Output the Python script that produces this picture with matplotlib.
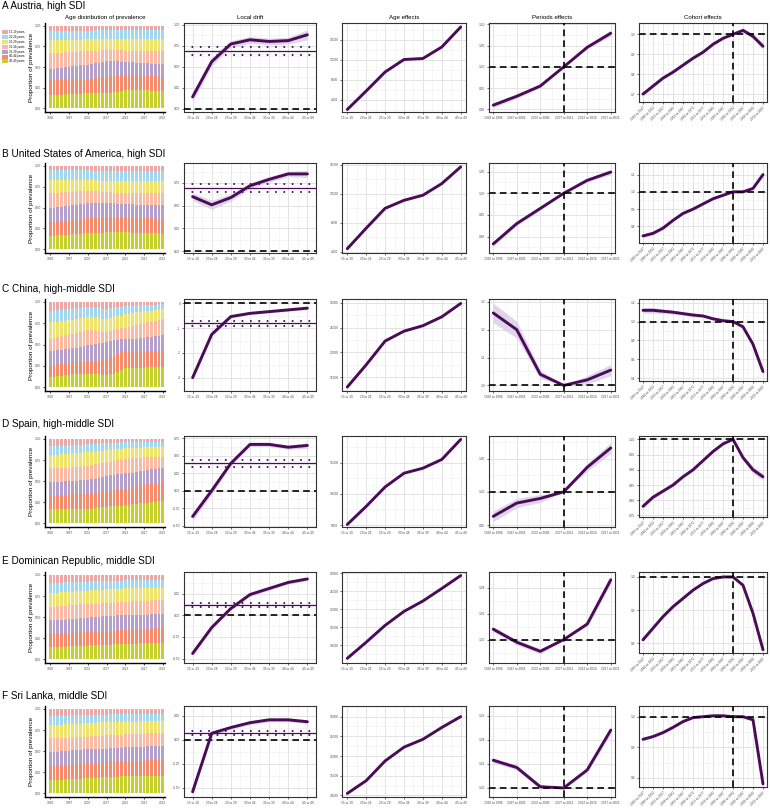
import numpy as np
import matplotlib.pyplot as plt
from matplotlib.patches import Patch

plt.rcParams['font.family'] = ['Liberation Sans', 'DejaVu Sans']

# ---------------- categories ----------------
years = list(range(1992, 2023))
age_groups = ['15 to 19', '20 to 24', '25 to 29', '30 to 34', '35 to 39', '40 to 44', '45 to 49']
periods = ['1992 to 1996', '1997 to 2001', '2002 to 2006', '2007 to 2011', '2012 to 2016', '2017 to 2021']
cohorts = ['1943 to 1947', '1948 to 1952', '1953 to 1957', '1958 to 1962', '1963 to 1967',
           '1968 to 1972', '1973 to 1977', '1978 to 1982', '1983 to 1987', '1988 to 1992',
           '1993 to 1997', '1998 to 2002', '2003 to 2007']
legend_labels = ['15-19 years', '20-24 years', '25-29 years', '30-34 years',
                 '35-39 years', '40-44 years', '45-49 years']
# colours bottom (45-49) -> top (15-19)
stack_colors = ['#C5D02F', '#F48B6C', '#B5A0CB', '#F9B9A2', '#EEE46B', '#A3D7EE', '#EDA7A7']

# ---------------- A Austria ----------------
# cumulative tops: 45-49, 40-44, 35-39, 30-34, 25-29, 20-24 (15-19 fills up to 1)
aut_cum = [
    [.16, .16, .16, .16, .17, .17, .17, .17, .17, .18, .18, .18, .18, .18, .19, .19, .19, .20, .20, .21,
     .22, .22, .22, .22, .22, .22, .22, .21, .21, .21, .21],
    [.34, .34, .34, .35, .35, .35, .35, .35, .36, .36, .36, .36, .37, .37, .38, .38, .39, .39, .40, .40,
     .41, .41, .41, .41, .40, .40, .40, .39, .39, .38, .38],
    [.48, .48, .49, .49, .50, .50, .51, .51, .52, .53, .53, .54, .55, .55, .56, .57, .57, .57, .57, .56,
     .56, .56, .56, .55, .55, .55, .55, .54, .54, .54, .54],
    [.67, .67, .67, .67, .68, .68, .68, .68, .69, .69, .69, .70, .70, .70, .71, .71, .71, .71, .71, .71,
     .70, .70, .70, .70, .70, .70, .69, .69, .69, .69, .69],
    [.83, .83, .83, .83, .83, .83, .83, .83, .83, .84, .84, .84, .84, .84, .84, .84, .84, .84, .84, .84,
     .84, .84, .84, .84, .84, .84, .84, .84, .84, .84, .84],
    [.94, .94, .94, .94, .94, .94, .94, .94, .94, .94, .94, .94, .95, .95, .95, .95, .95, .95, .95, .95,
     .95, .95, .95, .95, .95, .95, .95, .95, .95, .95, .95],
]
aut_drift = [0.14, 0.56, 0.77, 0.82, 0.80, 0.81, 0.88]
aut_drift_ci = [0.06, 0.05, 0.04, 0.04, 0.04, 0.04, 0.06]
aut_net = [0.69, 0.64, 0.74]
aut_age = [2000, 5700, 9500, 12000, 12200, 14500, 18500]
aut_period = [0.910, 0.931, 0.955, 1.000, 1.046, 1.079]
aut_period_ci = [0.006, 0.005, 0.004, 0.0, 0.004, 0.007]
aut_cohort = [0.70, 0.74, 0.78, 0.81, 0.845, 0.88, 0.91, 0.95, 0.98, 1.00, 1.02, 0.99, 0.94]
aut_cohort_ci = [0.010, 0.008, 0.007, 0.006, 0.006, 0.006, 0.006, 0.006, 0.006, 0.0, 0.010, 0.012, 0.015]

# ---------------- B USA ----------------
usa_cum = [
    [.16, .16, .17, .17, .17, .17, .18, .18, .18, .19, .19, .19, .20, .20, .20, .21, .21, .21, .21, .21,
     .21, .21, .20, .20, .20, .20, .19, .19, .19, .18, .18],
    [.33, .33, .34, .34, .34, .35, .35, .36, .36, .37, .37, .37, .38, .38, .38, .39, .39, .39, .39, .39,
     .39, .39, .38, .38, .38, .37, .37, .37, .36, .36, .36],
    [.50, .50, .51, .51, .52, .52, .53, .53, .54, .54, .55, .55, .55, .55, .55, .55, .55, .55, .54, .54,
     .54, .54, .54, .53, .53, .53, .53, .53, .53, .53, .53],
    [.68, .68, .68, .69, .69, .69, .69, .70, .70, .70, .70, .70, .70, .70, .69, .69, .69, .68, .68, .68,
     .67, .67, .67, .67, .67, .67, .67, .67, .67, .67, .67],
    [.83, .83, .83, .83, .83, .83, .83, .83, .83, .83, .83, .83, .83, .82, .82, .82, .82, .82, .82, .82,
     .82, .82, .82, .82, .82, .82, .82, .82, .82, .82, .82],
    [.95, .95, .95, .95, .95, .95, .95, .95, .95, .95, .95, .94, .94, .94, .94, .94, .94, .94, .94, .94,
     .94, .94, .94, .94, .94, .94, .94, .94, .94, .94, .94],
]
usa_drift = [0.60, 0.51, 0.59, 0.72, 0.79, 0.85, 0.85]
usa_drift_ci = [0.04, 0.05, 0.04, 0.03, 0.03, 0.03, 0.04]
usa_net = [0.695, 0.65, 0.74]
usa_age = [4450, 7270, 10000, 11100, 11800, 13400, 15700]
usa_period = [0.883, 0.930, 0.965, 1.000, 1.030, 1.049]
usa_period_ci = [0.006, 0.005, 0.004, 0.0, 0.004, 0.006]
usa_cohort = [0.745, 0.76, 0.79, 0.835, 0.875, 0.90, 0.93, 0.96, 0.98, 1.00, 1.00, 1.02, 1.10]
usa_cohort_ci = [0.010, 0.010, 0.008, 0.007, 0.007, 0.007, 0.006, 0.006, 0.005, 0.0, 0.006, 0.008, 0.012]

# ---------------- C China ----------------
chn_cum = [
    [.12, .12, .13, .13, .14, .14, .15, .15, .15, .16, .16, .16, .15, .15, .14, .14, .15, .16, .18, .20,
     .22, .22, .23, .23, .23, .23, .24, .24, .24, .24, .24],
    [.26, .26, .27, .27, .28, .28, .29, .29, .30, .30, .31, .31, .31, .32, .32, .33, .35, .37, .39, .41,
     .43, .43, .43, .43, .43, .42, .42, .42, .42, .42, .42],
    [.43, .43, .44, .44, .45, .45, .46, .46, .47, .48, .49, .50, .51, .52, .52, .53, .54, .55, .55, .56,
     .57, .57, .57, .57, .58, .58, .59, .59, .60, .60, .61],
    [.57, .58, .59, .60, .61, .62, .63, .64, .65, .66, .67, .67, .66, .66, .65, .65, .66, .67, .68, .69,
     .70, .71, .72, .73, .74, .75, .76, .77, .78, .79, .80],
    [.76, .77, .77, .78, .78, .79, .79, .80, .81, .81, .82, .82, .81, .81, .80, .80, .81, .82, .83, .84,
     .86, .86, .87, .88, .88, .89, .89, .90, .91, .91, .92],
    [.90, .90, .91, .91, .92, .92, .92, .93, .93, .94, .94, .94, .93, .93, .92, .92, .93, .93, .94, .94,
     .95, .95, .95, .96, .96, .96, .97, .97, .97, .98, .98],
]
chn_drift = [-3.0, -1.25, -0.53, -0.40, -0.33, -0.26, -0.19]
chn_drift_ci = [0.12, 0.08, 0.06, 0.05, 0.05, 0.05, 0.05]
chn_net = [-0.81, -0.92, -0.71]
chn_age = [13000, 17500, 22300, 24300, 25400, 27200, 29900]
chn_period = [1.26, 1.20, 1.04, 1.00, 1.02, 1.055]
chn_period_ci = [0.035, 0.03, 0.015, 0.0, 0.015, 0.02]
chn_cohort = [1.12, 1.12, 1.11, 1.10, 1.085, 1.07, 1.06, 1.03, 1.01, 1.00, 0.945, 0.76, 0.47]
chn_cohort_ci = [0.03, 0.03, 0.025, 0.02, 0.02, 0.02, 0.015, 0.015, 0.01, 0.0, 0.015, 0.025, 0.03]

# ---------------- D Spain ----------------
esp_cum = [
    [.17, .17, .17, .17, .17, .17, .17, .17, .17, .17, .17, .17, .18, .18, .19, .19, .20, .20, .21, .21,
     .22, .22, .23, .23, .24, .24, .24, .25, .25, .26, .26],
    [.34, .34, .34, .34, .34, .35, .35, .35, .35, .35, .35, .36, .36, .37, .37, .38, .38, .39, .39, .40,
     .40, .41, .42, .43, .44, .45, .46, .47, .48, .48, .49],
    [.49, .49, .49, .49, .50, .50, .50, .50, .51, .51, .51, .52, .53, .54, .55, .56, .57, .57, .58, .58,
     .59, .60, .60, .61, .62, .62, .63, .64, .64, .65, .66],
    [.65, .65, .65, .66, .66, .66, .67, .67, .67, .68, .68, .69, .70, .71, .72, .73, .73, .74, .75, .75,
     .76, .76, .77, .77, .77, .78, .78, .78, .79, .79, .79],
    [.81, .81, .81, .82, .82, .82, .83, .83, .83, .84, .84, .85, .85, .86, .86, .87, .87, .88, .88, .88,
     .89, .89, .89, .89, .89, .90, .90, .90, .90, .90, .90],
    [.92, .92, .92, .92, .92, .93, .93, .93, .93, .93, .94, .94, .94, .94, .95, .95, .95, .95, .95, .96,
     .96, .96, .96, .96, .96, .96, .96, .96, .96, .96, .96],
]
esp_drift = [-0.37, 0.00, 0.39, 0.66, 0.66, 0.62, 0.645]
esp_drift_ci = [0.06, 0.05, 0.04, 0.03, 0.03, 0.03, 0.04]
esp_net = [0.39, 0.34, 0.44]
esp_age = [5100, 8000, 11100, 13300, 14100, 15500, 18700]
esp_period = [0.963, 0.983, 0.990, 1.000, 1.037, 1.066]
esp_period_ci = [0.008, 0.007, 0.006, 0.0, 0.006, 0.008]
esp_cohort = [0.78, 0.81, 0.83, 0.85, 0.877, 0.90, 0.93, 0.96, 0.985, 1.00, 0.94, 0.90, 0.877]
esp_cohort_ci = [0.006, 0.006, 0.005, 0.005, 0.004, 0.004, 0.004, 0.003, 0.003, 0.0, 0.008, 0.012, 0.012]

# ---------------- E Dominican Republic ----------------
dom_cum = [
    [.15, .15, .15, .15, .15, .16, .16, .16, .16, .16, .16, .17, .17, .17, .17, .17, .17, .18, .18, .18,
     .18, .18, .18, .18, .19, .19, .19, .19, .19, .19, .19],
    [.30, .30, .30, .31, .31, .31, .31, .32, .32, .32, .33, .33, .33, .33, .34, .34, .34, .34, .35, .35,
     .35, .35, .35, .36, .36, .36, .36, .36, .37, .37, .37],
    [.46, .46, .47, .47, .47, .48, .48, .48, .49, .49, .49, .50, .50, .50, .51, .51, .51, .51, .52, .52,
     .52, .52, .53, .53, .53, .53, .53, .54, .54, .54, .54],
    [.62, .62, .63, .63, .63, .64, .64, .64, .65, .65, .65, .66, .66, .66, .67, .67, .67, .67, .68, .68,
     .68, .68, .69, .69, .69, .69, .69, .70, .70, .70, .70],
    [.79, .79, .79, .80, .80, .80, .80, .81, .81, .81, .81, .82, .82, .82, .82, .83, .83, .83, .83, .83,
     .84, .84, .84, .84, .84, .84, .85, .85, .85, .85, .85],
    [.91, .91, .91, .91, .92, .92, .92, .92, .92, .92, .92, .93, .93, .93, .93, .93, .93, .93, .93, .93,
     .94, .94, .94, .94, .94, .94, .94, .94, .94, .94, .94],
]
dom_drift = [-0.44, -0.14, 0.08, 0.24, 0.31, 0.38, 0.42]
dom_drift_ci = [0.03, 0.02, 0.02, 0.02, 0.02, 0.02, 0.02]
dom_net = [0.12, 0.10, 0.14]
dom_age = [6300, 10800, 15500, 19400, 22300, 25800, 29400]
dom_period = [1.008, 0.998, 0.991, 1.000, 1.012, 1.046]
dom_period_ci = [0.002, 0.002, 0.002, 0.0, 0.002, 0.003]
dom_cohort = [0.81, 0.845, 0.88, 0.91, 0.935, 0.96, 0.98, 0.995, 1.00, 1.00, 0.975, 0.89, 0.78]
dom_cohort_ci = [0.005, 0.004, 0.004, 0.003, 0.003, 0.003, 0.002, 0.002, 0.002, 0.0, 0.004, 0.006, 0.008]

# ---------------- F Sri Lanka ----------------
lka_cum = [
    [.16, .16, .16, .16, .17, .17, .17, .17, .17, .18, .18, .18, .18, .18, .19, .19, .19, .19, .19, .20,
     .20, .20, .20, .20, .20, .21, .21, .21, .21, .21, .21],
    [.33, .33, .33, .34, .34, .34, .34, .35, .35, .35, .35, .36, .36, .36, .36, .37, .37, .37, .37, .37,
     .38, .38, .38, .38, .38, .38, .39, .39, .39, .39, .39],
    [.49, .49, .49, .50, .50, .50, .51, .51, .51, .52, .52, .52, .53, .53, .53, .53, .54, .54, .54, .54,
     .55, .55, .55, .55, .55, .55, .56, .56, .56, .56, .56],
    [.65, .65, .65, .66, .66, .66, .66, .67, .67, .67, .67, .68, .68, .68, .68, .69, .69, .69, .69, .69,
     .70, .70, .70, .70, .70, .70, .71, .71, .71, .71, .71],
    [.81, .81, .81, .81, .82, .82, .82, .82, .82, .83, .83, .83, .83, .84, .84, .84, .84, .84, .85, .85,
     .85, .85, .85, .85, .86, .86, .86, .86, .86, .86, .86],
    [.92, .92, .92, .92, .92, .92, .93, .93, .93, .93, .93, .93, .93, .93, .93, .93, .94, .94, .94, .94,
     .94, .94, .94, .94, .94, .94, .94, .94, .94, .94, .94],
]
lka_drift = [-0.54, 0.07, 0.13, 0.18, 0.21, 0.21, 0.19]
lka_drift_ci = [0.03, 0.02, 0.02, 0.02, 0.02, 0.02, 0.02]
lka_net = [0.07, 0.05, 0.09]
lka_age = [10500, 13750, 18750, 22250, 24250, 27250, 30000]
lka_period = [1.023, 1.017, 1.001, 1.000, 1.015, 1.048]
lka_period_ci = [0.002, 0.002, 0.002, 0.0, 0.002, 0.003]
lka_cohort = [0.926, 0.935, 0.948, 0.965, 0.984, 0.997, 1.0, 1.003, 1.003, 1.0, 1.0, 0.99, 0.78]
lka_cohort_ci = [0.005, 0.004, 0.004, 0.003, 0.003, 0.003, 0.002, 0.002, 0.002, 0.0, 0.004, 0.006, 0.008]

rows = [
    dict(title='A Austria, high SDI', cum=aut_cum, drift=aut_drift, drift_ci=aut_drift_ci, net=aut_net,
         age=aut_age, period=aut_period, period_ci=aut_period_ci, cohort=aut_cohort, cohort_ci=aut_cohort_ci),
    dict(title='B United States of America, high SDI', cum=usa_cum, drift=usa_drift, drift_ci=usa_drift_ci,
         net=usa_net, age=usa_age, period=usa_period, period_ci=usa_period_ci, cohort=usa_cohort,
         cohort_ci=usa_cohort_ci),
    dict(title='C China, high-middle SDI', cum=chn_cum, drift=chn_drift, drift_ci=chn_drift_ci, net=chn_net,
         age=chn_age, period=chn_period, period_ci=chn_period_ci, cohort=chn_cohort, cohort_ci=chn_cohort_ci),
    dict(title='D Spain, high-middle SDI', cum=esp_cum, drift=esp_drift, drift_ci=esp_drift_ci, net=esp_net,
         age=esp_age, period=esp_period, period_ci=esp_period_ci, cohort=esp_cohort, cohort_ci=esp_cohort_ci),
    dict(title='E Dominican Republic, middle SDI', cum=dom_cum, drift=dom_drift, drift_ci=dom_drift_ci,
         net=dom_net, age=dom_age, period=dom_period, period_ci=dom_period_ci, cohort=dom_cohort,
         cohort_ci=dom_cohort_ci),
    dict(title='F Sri Lanka, middle SDI', cum=lka_cum, drift=lka_drift, drift_ci=lka_drift_ci, net=lka_net,
         age=lka_age, period=lka_period, period_ci=lka_period_ci, cohort=lka_cohort, cohort_ci=lka_cohort_ci),
]

# axis settings per row: (ylim, yticks, decimals) for drift, age, period, cohort
axis_cfg = [
    [((-0.04, 1.02), [0, .25, .5, .75, 1.0], 2), ((1500, 19300), [4000, 8000, 12000, 16000], 0),
     ((0.894, 1.103), [0.90, 0.95, 1.00, 1.05, 1.10], 2), ((0.66, 1.057), [0.7, 0.8, 0.9, 1.0], 1)],
    [((-0.02, 0.97), [0, .25, .5, .75], 2), ((3860, 16230), [4000, 8000, 12000, 16000], 0),
     ((0.862, 1.07), [0.90, 0.95, 1.00, 1.05], 2), ((0.704, 1.167), [0.8, 0.9, 1.0, 1.1], 1)],
    [((-3.54, 0.18), [-3, -2, -1, 0], 0), ((12200, 30800), [15000, 20000, 25000, 30000], 0),
     ((0.98, 1.31), [1.0, 1.1, 1.2, 1.3], 1), ((0.37, 1.24), [0.4, 0.6, 0.8, 1.0, 1.2], 1)],
    [((-0.52, 0.78), [-0.5, -0.25, 0, 0.25, 0.5, 0.75], 2), ((4700, 19250), [5000, 10000, 15000], 0),
     ((0.947, 1.084), [0.95, 1.00, 1.05], 2), ((0.745, 1.011), [0.75, 0.80, 0.85, 0.90, 0.95, 1.00], 2)],
    [((-0.55, 0.50), [-0.5, -0.25, 0, 0.25], 2), ((5000, 30400), [10000, 15000, 20000, 25000, 30000], 0),
     ((0.982, 1.052), [1.00, 1.02, 1.04], 2), ((0.77, 1.015), [0.8, 0.9, 1.0], 1)],
    [((-0.594, 0.354), [-0.5, -0.25, 0, 0.25], 2), ((9600, 32700), [10000, 15000, 20000, 25000, 30000], 0),
     ((0.9925, 1.068), [1.00, 1.02, 1.04, 1.06], 2), ((0.77, 1.035), [0.8, 0.9, 1.0], 1)],
]

# ---------------- layout (pixels) ----------------
W, H = 770, 811
fig = plt.figure(figsize=(W / 100, H / 100), dpi=100)
row_top = [23, 163, 299, 436, 572, 706]
row_bot = [112, 253, 391, 527, 663, 797]
label_y = [6, 154, 289, 424, 561, 695]
cols = [(45, 165), (184, 316), (342, 466), (489, 615), (639, 767)]
col_titles = ['Age distribution of prevalence', 'Local drift', 'Age effects', 'Periods effects', 'Cohort effects']

PURPLE = '#4A0C57'
BAND = '#D9CCE5'
TICK_FS = 2.3
DASH = (0, (4, 2.5))


def add_ax(x0, x1, top, bot):
    return fig.add_axes([x0 / W, 1 - bot / H, (x1 - x0) / W, (bot - top) / H])


def style_bw(ax, n, xlabels, xpad, rotate=False):
    ax.set_facecolor('white')
    for s in ax.spines.values():
        s.set_color('#333333')
        s.set_linewidth(0.8)
    xs = np.arange(n)
    ax.set_xticks(xs)
    if rotate:
        ax.set_xticklabels(xlabels, rotation=45, ha='right', rotation_mode='anchor', fontsize=2.0)
    else:
        ax.set_xticklabels(xlabels, fontsize=2.0)
    ax.set_xlim(-xpad, n - 1 + xpad)
    ax.set_xticks(xs[:-1] + 0.5, minor=True)
    ax.grid(which='major', color='#E3E3E3', lw=0.7, zorder=0)
    ax.grid(which='minor', color='#F0F0F0', lw=0.45, zorder=0)
    ax.tick_params(which='major', length=1.5, width=0.5, color='#333333', pad=1.2, labelsize=TICK_FS,
                   labelcolor='#4D4D4D')
    ax.tick_params(which='minor', length=0)
    ax.set_axisbelow(True)


def set_y(ax, cfg):
    (lo, hi), ticks, dec = cfg
    ax.set_ylim(lo, hi)
    ax.set_yticks(ticks)
    ax.set_yticklabels([f'{t:.{dec}f}' for t in ticks])
    step = ticks[1] - ticks[0]
    minor = [t + step / 2 for t in [ticks[0] - step] + list(ticks) if lo < t + step / 2 < hi]
    ax.set_yticks(minor, minor=True)


for r, row in enumerate(rows):
    top, bot = row_top[r], row_bot[r]
    fig.text(2 / W, 1 - label_y[r] / H, row['title'], fontsize=7.2, va='center', ha='left')

    # ---- stacked bars ----
    ax = add_ax(cols[0][0], cols[0][1], top, bot)
    bottom = np.zeros(len(years))
    tops = [np.array(c) for c in row['cum']] + [np.ones(len(years))]
    for k, t in enumerate(tops):
        ax.bar(years, t - bottom, bottom=bottom, width=0.78, color=stack_colors[k], linewidth=0)
        bottom = t
    ax.set_xlim(1990.6, 2022.6)
    ax.set_ylim(-0.045, 1.035)
    ax.set_xticks([1992, 1997, 2002, 2007, 2012, 2017, 2022])
    ax.set_yticks([0, 0.25, 0.5, 0.75, 1.0])
    ax.set_yticklabels(['0.00', '0.25', '0.50', '0.75', '1.00'])
    for s in ['top', 'right']:
        ax.spines[s].set_visible(False)
    for s in ['left', 'bottom']:
        ax.spines[s].set_linewidth(1.0)
        ax.spines[s].set_color('black')
    ax.tick_params(length=1.5, width=0.5, pad=1.2, labelsize=TICK_FS, labelcolor='#4D4D4D')
    ax.set_ylabel('Proportion of prevalence', fontsize=4.6, labelpad=1.0)
    if r == 0:
        ax.set_title(col_titles[0], fontsize=4.4, pad=3)

    cfg = axis_cfg[r]

    # ---- local drift ----
    ax = add_ax(cols[1][0], cols[1][1], top, bot)
    style_bw(ax, 7, age_groups, 0.45)
    x = np.arange(7)
    d = np.array(row['drift'])
    ci = np.array(row['drift_ci'])
    ax.fill_between(x, d - ci, d + ci, color=BAND, alpha=0.8, lw=0, zorder=2)
    ax.axhline(0, color='black', lw=1.2, ls=DASH, zorder=3)
    net, nlo, nhi = row['net']
    ax.axhline(net, color=PURPLE, lw=0.9, zorder=4)
    for v in (nlo, nhi):
        ax.axhline(v, color=PURPLE, lw=1.5, ls=(0, (0.01, 4.0)), dash_capstyle='round', zorder=4)
    ax.plot(x, d, color=PURPLE, lw=2.1, solid_capstyle='round', zorder=5)
    set_y(ax, cfg[0])
    if r == 0:
        ax.set_title(col_titles[1], fontsize=4.4, pad=3)

    # ---- age effects ----
    ax = add_ax(cols[2][0], cols[2][1], top, bot)
    style_bw(ax, 7, age_groups, 0.28)
    ax.plot(x, row['age'], color=PURPLE, lw=2.1, solid_capstyle='round', zorder=5)
    set_y(ax, cfg[1])
    if r == 0:
        ax.set_title(col_titles[2], fontsize=4.4, pad=3)

    # ---- period effects ----
    ax = add_ax(cols[3][0], cols[3][1], top, bot)
    style_bw(ax, 6, periods, 0.18)
    xp = np.arange(6)
    p = np.array(row['period'])
    pci = np.array(row['period_ci'])
    ax.fill_between(xp, p - pci, p + pci, color=BAND, alpha=0.8, lw=0, zorder=2)
    ax.plot(xp, p, color=PURPLE, lw=2.1, solid_capstyle='round', zorder=4)
    ax.axhline(1.0, color='black', lw=1.2, ls=DASH, zorder=5)
    ax.axvline(3, color='black', lw=1.2, ls=DASH, zorder=5)
    set_y(ax, cfg[2])
    if r == 0:
        ax.set_title(col_titles[3], fontsize=4.4, pad=3)

    # ---- cohort effects ----
    ax = add_ax(cols[4][0], cols[4][1], top, bot - 10)
    style_bw(ax, 13, cohorts, 0.4, rotate=True)
    xc = np.arange(13)
    c = np.array(row['cohort'])
    cci = np.array(row['cohort_ci'])
    ax.fill_between(xc, c - cci, c + cci, color=BAND, alpha=0.8, lw=0, zorder=2)
    ax.plot(xc, c, color=PURPLE, lw=2.1, solid_capstyle='round', zorder=4)
    ax.axhline(1.0, color='black', lw=1.2, ls=DASH, zorder=5)
    ax.axvline(9, color='black', lw=1.2, ls=DASH, zorder=5)
    set_y(ax, cfg[3])
    if r == 0:
        ax.set_title(col_titles[4], fontsize=4.4, pad=3)

# legend for the age groups (top to bottom: 15-19 ... 45-49)
handles = [Patch(facecolor=stack_colors[6 - i], edgecolor='none') for i in range(7)]
fig.legend(handles, legend_labels, loc='upper left', bbox_to_anchor=(2 / W, 1 - 30 / H),
           fontsize=2.1, frameon=False, handlelength=2.0, handleheight=1.7, labelspacing=0.3,
           borderpad=0, borderaxespad=0, handletextpad=0.4)

fig.savefig('out.png', dpi=100)
